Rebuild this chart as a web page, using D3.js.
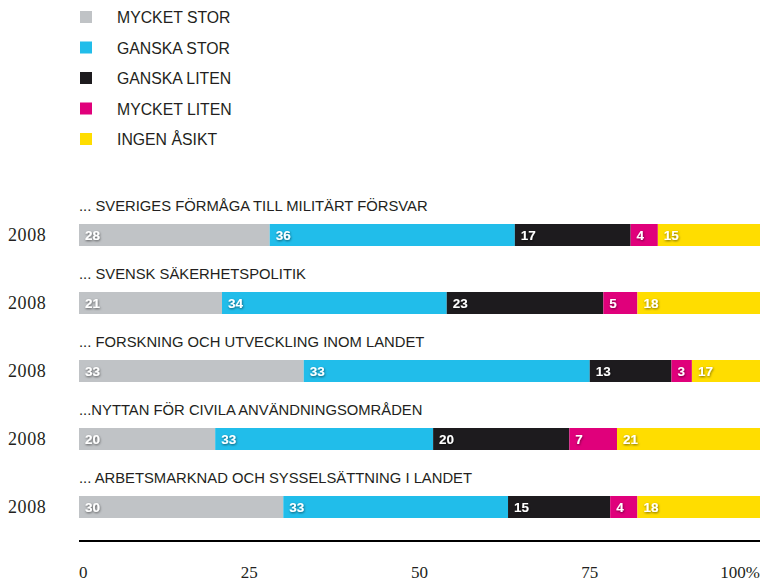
<!DOCTYPE html>
<html>
<head>
<meta charset="utf-8" />
<title>Stacked bars</title>
<script src="https://d3js.org/d3.v7.min.js"></script>
<style>
body{
    margin:0;
    background:#fff;
}
.legendText, .rowTitle{
    font-family:"Liberation Sans", Arial, sans-serif;
    fill:#231f20;
}
.year, .tick{
    font-family:"Liberation Serif", "DejaVu Serif", serif;
    fill:#231f20;
}
.val{
    font-family:"Liberation Sans", Arial, sans-serif;
    font-weight:bold;
    fill:#fff;
}
</style>
</head>
<body>
<div id="chart"></div>
<script>

// series (legend order)
var series = ["MYCKET STOR", "GANSKA STOR", "GANSKA LITEN", "MYCKET LITEN", "INGEN ÅSIKT"];
var colors = ["#c0c3c6", "#21bdea", "#1d1b1e", "#e0007b", "#ffdd00"];

// questions
var questions = [
    "... SVERIGES FÖRMÅGA TILL MILITÄRT FÖRSVAR",
    "... SVENSK SÄKERHETSPOLITIK",
    "... FORSKNING OCH UTVECKLING INOM LANDET",
    "...NYTTAN FÖR CIVILA ANVÄNDNINGSOMRÅDEN",
    "... ARBETSMARKNAD OCH SYSSELSÄTTNING I LANDET"
];
var years = ["2008", "2008", "2008", "2008", "2008"];

// printed numbers, one array per series
var mycketStor  = [28, 21, 33, 20, 30];
var ganskaStor  = [36, 34, 33, 33, 33];
var ganskaLiten = [17, 23, 13, 20, 15];
var mycketLiten = [4, 5, 3, 7, 4];
var ingenAsikt  = [15, 18, 17, 21, 18];

// segment lengths as drawn in the picture (%), they differ a bit from the printed numbers
var lenMycketStor  = [28, 21, 33, 20, 30];
var lenGanskaStor  = [36, 33, 42, 32, 33];
var lenGanskaLiten = [17, 23, 12, 20, 15];
var lenMycketLiten = [4, 5, 3, 7, 4];
var lenIngenAsikt  = [15, 18, 10, 21, 18];

var ticks = [0, 25, 50, 75, 100];
var tickLabels = ["0", "25", "50", "75", "100%"];

var printed = [mycketStor, ganskaStor, ganskaLiten, mycketLiten, ingenAsikt];
var lengths = [lenMycketStor, lenGanskaStor, lenGanskaLiten, lenMycketLiten, lenIngenAsikt];

var width = 760, height = 581;

var svg = d3.select("#chart").append("svg")
    .attr("width", width)
    .attr("height", height);

var defs = svg.append("defs");
var f = defs.append("filter").attr("id", "shadow")
    .attr("x", "-30%").attr("y", "-30%").attr("width", "160%").attr("height", "160%");
f.append("feDropShadow")
    .attr("dx", 0.5).attr("dy", 1)
    .attr("stdDeviation", 1)
    .attr("flood-color", "#000")
    .attr("flood-opacity", 0.55);

// scales
var x = d3.scaleLinear().domain([0, 100]).range([79, 760]);
// step 68, bar 22
var y = d3.scaleBand().domain(d3.range(questions.length)).range([224, 518]).paddingInner(46 / 68).paddingOuter(0);

// legend
var legend = svg.append("g").selectAll("g")
    .data(series)
    .enter().append("g")
    .attr("transform", function(d, i){ return "translate(80," + (17 + i * 30.5) + ")"; });
legend.append("rect")
    .attr("x", 0).attr("y", -6)
    .attr("width", 12).attr("height", 12)
    .attr("fill", function(d, i){ return colors[i]; });
legend.append("text")
    .attr("class", "legendText")
    .attr("x", 37).attr("y", 6)
    .style("font-size", "15.8px")
    .text(function(d){ return d; });

// stacked rows
var rows = svg.append("g").selectAll("g")
    .data(questions)
    .enter().append("g")
    .attr("transform", function(d, i){ return "translate(0," + y(i) + ")"; });

rows.append("text")
    .attr("class", "rowTitle")
    .attr("x", 79).attr("y", -13)
    .style("font-size", "14.8px")
    .text(function(d){ return d; });

rows.append("text")
    .attr("class", "year")
    .attr("x", 8).attr("y", y.bandwidth() / 2 + 6)
    .style("font-size", "18px")
    .style("letter-spacing", "0.6px")
    .text(function(d, i){ return years[i]; });

rows.each(function(q, r){
    var g = d3.select(this);
    var start = 0;
    var segs = series.map(function(s, k){
        var seg = {k: k, x0: start, x1: start + lengths[k][r], label: printed[k][r]};
        start = seg.x1;
        return seg;
    });
    g.selectAll("rect")
        .data(segs)
        .enter().append("rect")
        .attr("x", function(d){ return x(d.x0); })
        .attr("width", function(d){ return x(Math.min(d.x1, 100)) - x(d.x0); })
        .attr("y", 0)
        .attr("height", y.bandwidth())
        .attr("fill", function(d){ return colors[d.k]; });
    g.selectAll("text.val")
        .data(segs)
        .enter().append("text")
        .attr("class", "val")
        .attr("x", function(d){ return x(d.x0) + 6; })
        .attr("y", 16)
        .attr("filter", "url(#shadow)")
        .style("font-size", "13.5px")
        .text(function(d){ return d.label; });
});

// axis
svg.append("line")
    .attr("x1", x(0)).attr("x2", x(100))
    .attr("y1", 541).attr("y2", 541)
    .attr("stroke", "#000")
    .attr("stroke-width", 2);

svg.append("g").selectAll("text")
    .data(ticks)
    .enter().append("text")
    .attr("class", "tick")
    .attr("x", function(d){ return x(d); })
    .attr("y", 578)
    .attr("text-anchor", function(d, i){ return i == 0 ? "start" : (i == ticks.length - 1 ? "end" : "middle"); })
    .style("font-size", "17px")
    .text(function(d, i){ return tickLabels[i]; });

</script>
</body>
</html>
